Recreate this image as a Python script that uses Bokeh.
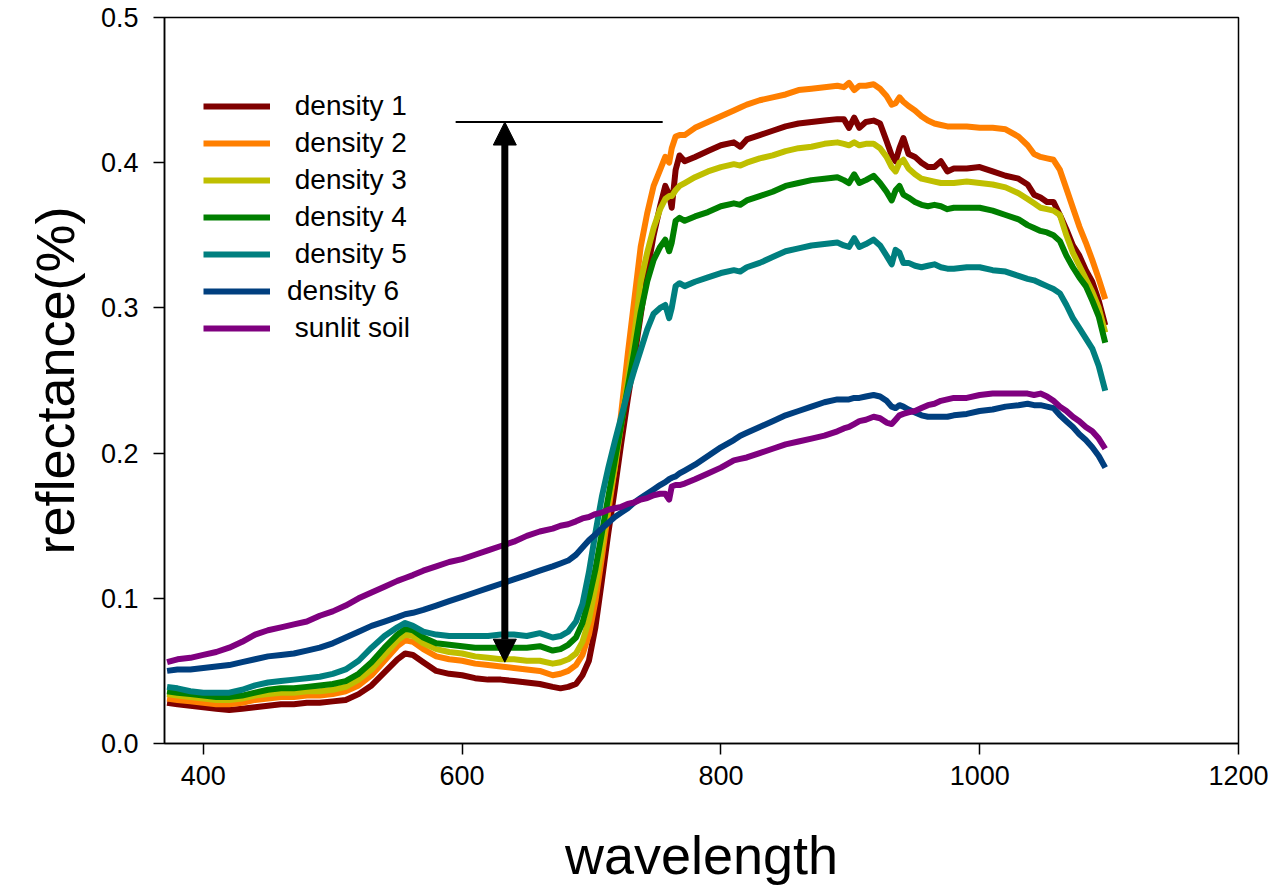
from bokeh.plotting import figure
from bokeh.models import Range1d, FixedTicker, PrintfTickFormatter, Legend, LegendItem, Arrow, NormalHead
from bokeh.embed import file_html
from bokeh.resources import INLINE

wavelength = [372, 380, 390, 400, 410, 420, 430, 440, 450, 460, 470, 480, 490, 500, 510, 520, 530, 540, 550, 556,
              562, 570, 580, 590, 600, 610, 620, 630, 640, 650, 660, 670, 676, 682, 688, 693, 698, 703, 708, 713,
              718, 723, 728, 733, 738, 743, 748, 753, 757, 760, 762, 765, 768, 772, 780, 790, 800, 810, 815, 820,
              830, 840, 850, 860, 870, 880, 890, 895, 899, 903, 907, 912, 918, 923, 928, 932, 935, 938, 941, 945,
              950, 955, 960, 965, 970, 975, 980, 990, 1000, 1010, 1020, 1030, 1037, 1042, 1047, 1052, 1057, 1062, 1067, 1072,
              1077, 1082, 1087, 1092, 1097]

density_1 = [0.028, 0.027, 0.026, 0.025, 0.024, 0.023, 0.024, 0.025, 0.026, 0.027, 0.027, 0.028, 0.028, 0.029, 0.030, 0.034, 0.040, 0.049, 0.058, 0.062,
             0.061, 0.056, 0.050, 0.048, 0.047, 0.045, 0.044, 0.044, 0.043, 0.042, 0.041, 0.039, 0.038, 0.039, 0.041, 0.047, 0.057, 0.080, 0.112, 0.145,
             0.175, 0.207, 0.237, 0.265, 0.295, 0.325, 0.350, 0.370, 0.384, 0.378, 0.369, 0.395, 0.405, 0.401, 0.404, 0.408, 0.412, 0.414, 0.411, 0.416,
             0.419, 0.422, 0.425, 0.427, 0.428, 0.429, 0.430, 0.430, 0.424, 0.431, 0.424, 0.428, 0.429, 0.427, 0.415, 0.405, 0.401, 0.410, 0.417, 0.406,
             0.404, 0.400, 0.397, 0.397, 0.401, 0.394, 0.396, 0.396, 0.397, 0.394, 0.391, 0.389, 0.385, 0.378, 0.376, 0.373, 0.373, 0.364, 0.354, 0.343,
             0.336, 0.326, 0.318, 0.305, 0.288]

density_2 = [0.031, 0.030, 0.029, 0.028, 0.027, 0.027, 0.028, 0.030, 0.031, 0.032, 0.032, 0.033, 0.033, 0.034, 0.036, 0.040, 0.047, 0.057, 0.067, 0.071,
             0.070, 0.065, 0.060, 0.058, 0.057, 0.055, 0.054, 0.053, 0.052, 0.051, 0.050, 0.047, 0.048, 0.050, 0.054, 0.061, 0.075, 0.098, 0.128, 0.160,
             0.190, 0.228, 0.268, 0.305, 0.342, 0.365, 0.384, 0.395, 0.404, 0.400, 0.410, 0.418, 0.419, 0.419, 0.424, 0.428, 0.432, 0.436, 0.438, 0.440,
             0.443, 0.445, 0.447, 0.450, 0.451, 0.452, 0.453, 0.452, 0.455, 0.450, 0.453, 0.453, 0.454, 0.451, 0.446, 0.440, 0.441, 0.445, 0.442, 0.439,
             0.436, 0.432, 0.429, 0.427, 0.426, 0.425, 0.425, 0.425, 0.424, 0.424, 0.423, 0.418, 0.412, 0.406, 0.404, 0.403, 0.402, 0.395, 0.382, 0.369,
             0.356, 0.345, 0.333, 0.320, 0.306]

density_3 = [0.034, 0.033, 0.032, 0.031, 0.030, 0.030, 0.031, 0.033, 0.034, 0.035, 0.035, 0.036, 0.036, 0.037, 0.039, 0.044, 0.051, 0.061, 0.071, 0.075,
             0.074, 0.069, 0.065, 0.063, 0.062, 0.060, 0.059, 0.058, 0.058, 0.057, 0.057, 0.055, 0.056, 0.058, 0.062, 0.070, 0.085, 0.108, 0.135, 0.165,
             0.190, 0.220, 0.250, 0.280, 0.318, 0.338, 0.355, 0.368, 0.375, 0.377, 0.377, 0.381, 0.384, 0.386, 0.390, 0.394, 0.397, 0.399, 0.398, 0.400,
             0.403, 0.405, 0.408, 0.410, 0.411, 0.413, 0.414, 0.413, 0.412, 0.414, 0.412, 0.413, 0.413, 0.410, 0.404, 0.397, 0.394, 0.400, 0.402, 0.396,
             0.392, 0.389, 0.388, 0.387, 0.386, 0.386, 0.386, 0.387, 0.386, 0.385, 0.383, 0.379, 0.375, 0.372, 0.369, 0.368, 0.367, 0.364, 0.350, 0.338,
             0.329, 0.320, 0.311, 0.300, 0.283]

density_4 = [0.036, 0.035, 0.034, 0.033, 0.032, 0.032, 0.033, 0.035, 0.037, 0.038, 0.038, 0.039, 0.040, 0.041, 0.043, 0.048, 0.056, 0.066, 0.075, 0.079,
             0.078, 0.073, 0.069, 0.068, 0.067, 0.066, 0.066, 0.066, 0.066, 0.066, 0.067, 0.064, 0.065, 0.068, 0.073, 0.083, 0.100, 0.120, 0.145, 0.170,
             0.195, 0.220, 0.245, 0.270, 0.297, 0.318, 0.333, 0.342, 0.347, 0.339, 0.345, 0.360, 0.362, 0.360, 0.363, 0.366, 0.370, 0.372, 0.371, 0.374,
             0.377, 0.380, 0.384, 0.386, 0.388, 0.389, 0.390, 0.388, 0.386, 0.392, 0.386, 0.388, 0.391, 0.386, 0.380, 0.374, 0.381, 0.384, 0.378, 0.376,
             0.373, 0.371, 0.370, 0.371, 0.370, 0.368, 0.369, 0.369, 0.369, 0.367, 0.364, 0.361, 0.357, 0.355, 0.353, 0.352, 0.350, 0.346, 0.336, 0.328,
             0.321, 0.315, 0.305, 0.294, 0.276]

density_5 = [0.039, 0.038, 0.036, 0.035, 0.035, 0.035, 0.037, 0.040, 0.042, 0.043, 0.044, 0.045, 0.046, 0.048, 0.051, 0.057, 0.066, 0.074, 0.080, 0.083,
             0.081, 0.077, 0.075, 0.074, 0.074, 0.074, 0.074, 0.075, 0.075, 0.074, 0.076, 0.073, 0.074, 0.077, 0.084, 0.096, 0.118, 0.145, 0.170, 0.190,
             0.208, 0.225, 0.242, 0.257, 0.271, 0.285, 0.296, 0.300, 0.302, 0.293, 0.300, 0.315, 0.317, 0.315, 0.318, 0.321, 0.324, 0.326, 0.325, 0.328,
             0.331, 0.335, 0.339, 0.341, 0.343, 0.344, 0.345, 0.343, 0.342, 0.348, 0.342, 0.344, 0.347, 0.343, 0.336, 0.330, 0.340, 0.338, 0.331, 0.331,
             0.329, 0.328, 0.329, 0.330, 0.328, 0.327, 0.327, 0.328, 0.328, 0.326, 0.325, 0.322, 0.320, 0.319, 0.317, 0.315, 0.313, 0.310, 0.302, 0.293,
             0.286, 0.279, 0.272, 0.260, 0.243]

density_6 = [0.050, 0.051, 0.051, 0.052, 0.053, 0.054, 0.056, 0.058, 0.060, 0.061, 0.062, 0.064, 0.066, 0.069, 0.073, 0.077, 0.081, 0.084, 0.087, 0.089,
             0.090, 0.092, 0.095, 0.098, 0.101, 0.104, 0.107, 0.110, 0.113, 0.116, 0.119, 0.122, 0.124, 0.126, 0.130, 0.135, 0.140, 0.144, 0.148, 0.152,
             0.156, 0.159, 0.162, 0.166, 0.169, 0.172, 0.175, 0.178, 0.180, 0.182, 0.183, 0.184, 0.186, 0.188, 0.192, 0.198, 0.204, 0.209, 0.212, 0.214,
             0.218, 0.222, 0.226, 0.229, 0.232, 0.235, 0.237, 0.237, 0.237, 0.238, 0.238, 0.239, 0.240, 0.239, 0.236, 0.232, 0.231, 0.233, 0.232, 0.230,
             0.228, 0.226, 0.225, 0.225, 0.225, 0.225, 0.226, 0.227, 0.229, 0.230, 0.232, 0.233, 0.234, 0.233, 0.233, 0.232, 0.231, 0.226, 0.222, 0.218,
             0.213, 0.209, 0.204, 0.198, 0.190]

sunlit_soil = [0.056, 0.058, 0.059, 0.061, 0.063, 0.066, 0.070, 0.075, 0.078, 0.080, 0.082, 0.084, 0.088, 0.091, 0.095, 0.100, 0.104, 0.108, 0.112, 0.114,
               0.116, 0.119, 0.122, 0.125, 0.127, 0.130, 0.133, 0.136, 0.139, 0.143, 0.146, 0.148, 0.150, 0.151, 0.153, 0.155, 0.156, 0.158, 0.159, 0.161,
               0.162, 0.163, 0.165, 0.166, 0.168, 0.169, 0.171, 0.172, 0.172, 0.168, 0.177, 0.178, 0.178, 0.179, 0.182, 0.186, 0.190, 0.195, 0.196, 0.197,
               0.200, 0.203, 0.206, 0.208, 0.210, 0.212, 0.215, 0.217, 0.218, 0.220, 0.222, 0.223, 0.225, 0.224, 0.221, 0.220, 0.223, 0.226, 0.227, 0.228,
               0.229, 0.231, 0.233, 0.234, 0.236, 0.237, 0.238, 0.238, 0.240, 0.241, 0.241, 0.241, 0.241, 0.240, 0.241, 0.239, 0.236, 0.232, 0.229, 0.225,
               0.222, 0.218, 0.215, 0.210, 0.203]

series_labels = ["\u00a0density 1", "\u00a0density 2", "\u00a0density 3", "\u00a0density 4",
                 "\u00a0density 5", "density 6", "\u00a0sunlit soil"]
series_values = [density_1, density_2, density_3, density_4, density_5, density_6, sunlit_soil]
series_colors = ["#7f0000", "#ff7f00", "#bfbf00", "#007f00", "#007f7f", "#003f7f", "#7f007f"]

x_ticks = [400, 600, 800, 1000, 1200]
y_ticks = [0.0, 0.1, 0.2, 0.3, 0.4, 0.5]

# annotation: double arrow and reference line
arrow_x = 633
arrow_low = 0.056
arrow_high = 0.428
ref_line_x = [595, 755]
ref_line_y = [0.428, 0.428]

FONT = "Liberation Sans"

p = figure(frame_width=1074, frame_height=726,
           x_range=Range1d(370, 1200), y_range=Range1d(0, 0.5),
           output_backend="svg", toolbar_location=None,
           min_border_left=164, min_border_top=17, min_border_right=30, min_border_bottom=140)

p.xgrid.visible = False
p.ygrid.visible = False
p.outline_line_color = "black"
p.outline_line_width = 1.5
p.background_fill_color = "white"
p.border_fill_color = "white"

for ax in (p.xaxis[0], p.yaxis[0]):
    ax.axis_line_color = "black"
    ax.axis_line_width = 1.5
    ax.major_tick_line_color = "black"
    ax.major_tick_line_width = 1.5
    ax.major_tick_out = 11
    ax.major_tick_in = 0
    ax.minor_tick_line_color = None
    ax.major_label_text_font = FONT
    ax.major_label_text_font_size = "27px"
    ax.major_label_text_color = "black"
    ax.axis_label_text_font = FONT
    ax.axis_label_text_font_size = "54px"
    ax.axis_label_text_font_style = "normal"
    ax.axis_label_text_color = "black"

p.xaxis.ticker = FixedTicker(ticks=x_ticks)
p.yaxis.ticker = FixedTicker(ticks=y_ticks)
p.yaxis.formatter = PrintfTickFormatter(format="%.1f")
p.xaxis.major_label_standoff = 11
p.yaxis.major_label_standoff = 15
p.xaxis.axis_label = "wavelength"
p.yaxis.axis_label = "reflectance(%)"
p.xaxis.axis_label_standoff = 37
p.yaxis.axis_label_standoff = 13

renderers = []
for vals, col in zip(series_values, series_colors):
    r = p.line(wavelength, vals, line_color=col, line_width=6, line_join="round")
    renderers.append(r)

p.line(ref_line_x, ref_line_y, line_color="black", line_width=2)

p.add_layout(Arrow(
    start=NormalHead(size=23, fill_color="black", line_color="black"),
    end=NormalHead(size=23, fill_color="black", line_color="black"),
    x_start=arrow_x, y_start=arrow_low, x_end=arrow_x, y_end=arrow_high,
    line_width=7, line_color="black"))

legend = Legend(
    items=[LegendItem(label=lab, renderers=[r]) for lab, r in zip(series_labels, renderers)],
    location=(39, 399), orientation="vertical",
    glyph_width=67, glyph_height=32, label_height=32, spacing=5,
    label_standoff=17, padding=0, margin=0,
    label_text_font=FONT, label_text_font_size="28px", label_text_color="black",
    border_line_alpha=0, background_fill_alpha=0)
p.add_layout(legend)

open("out.html", "w").write(file_html(p, INLINE))
